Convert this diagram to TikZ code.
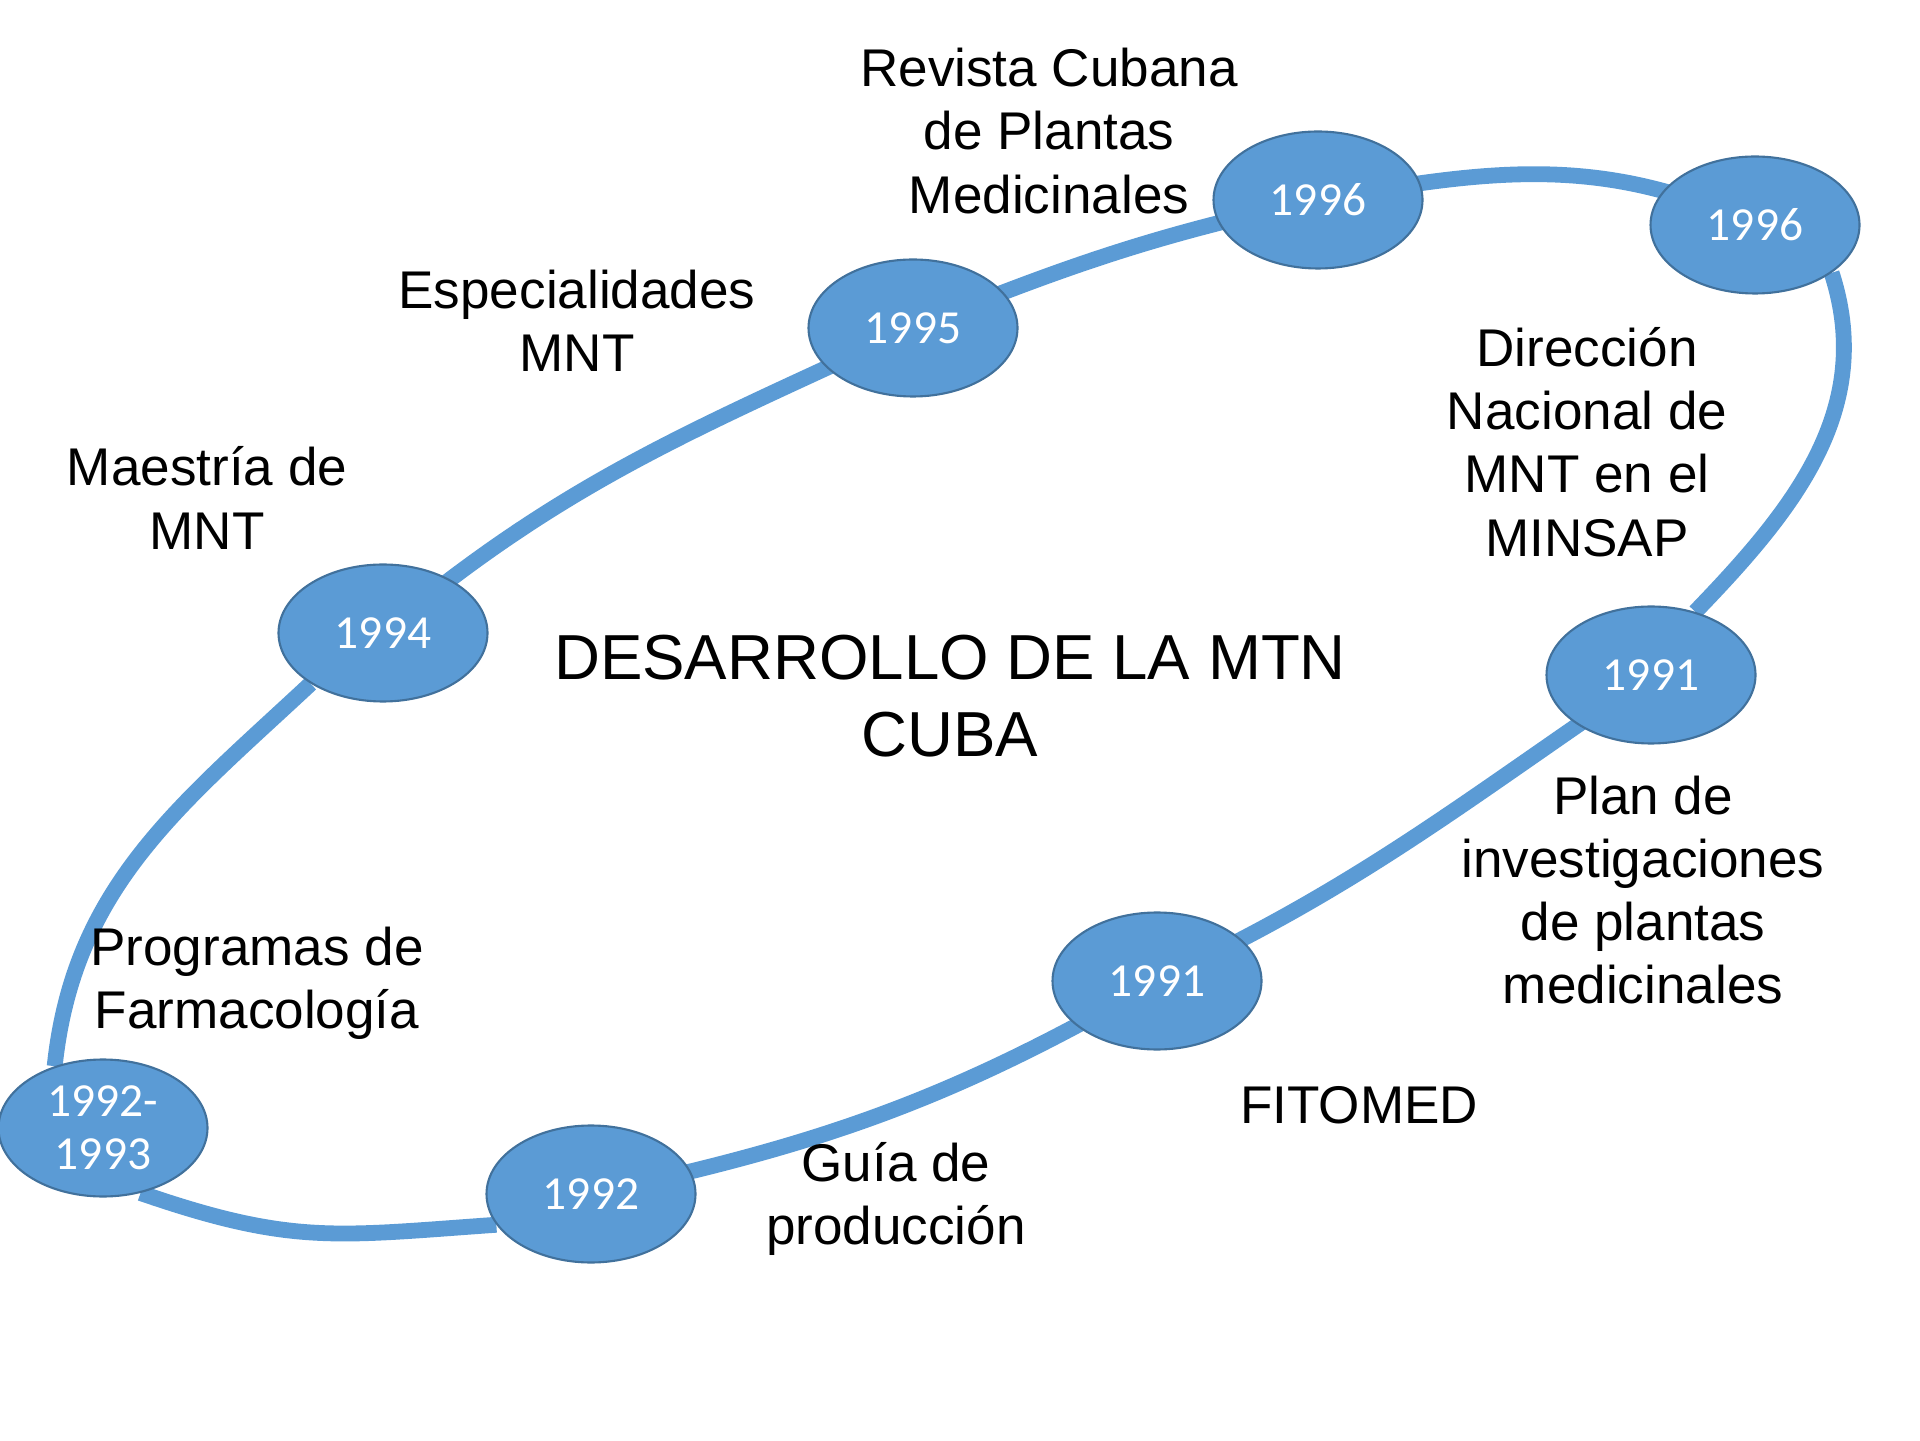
\documentclass[tikz,border=0pt]{standalone}
\usepackage{fontspec}
\setmainfont{Liberation Sans}
\newfontfamily\yrfont{Carlito}
\usepackage{tikz}
\usetikzlibrary{shapes.geometric}
\usetikzlibrary{backgrounds}
\definecolor{yrblue}{HTML}{5B9BD5}
\definecolor{yredge}{HTML}{41719C}

\begin{document}
\begin{tikzpicture}[line cap=round,line join=round,x=1cm,y=1cm,
    yr/.style={ellipse, draw=yredge, line width=0.6pt, fill=yrblue, text=white,
        minimum width=2.09cm, minimum height=1.37cm, inner sep=0pt, align=center,
        font=\yrfont\fontsize{13.5}{15}\selectfont},
    lbl/.style={align=center, font=\fontsize{15.1}{18}\selectfont},
    ringline/.style={draw=yrblue, line width=4.5pt}]
    \useasboundingbox (0,0) rectangle (19.2,14.4);

    % years round the ring
    \node[yr] (y9293) at (1.03,3.12) {1992-\\1993};
    \node[yr] (y94) at (3.83,8.07) {1994};
    \node[yr] (y95) at (9.13,11.12) {1995};
    \node[yr] (y96a) at (13.18,12.40) {1996};
    \node[yr] (y96b) at (17.55,12.15) {1996};
    \node[yr] (y91a) at (16.51,7.65) {1991};
    \node[yr] (y91b) at (11.57,4.59) {1991};
    \node[yr] (y92) at (5.91,2.46) {1992};

    % the ring itself, behind the years
    \begin{pgfonlayer}{background}
        \draw[ringline] (y9293.128) to[out=84, in=223] (y94.215);
        \draw[ringline] (y94.center) to[out=40, in=205] (y95.center);
        \draw[ringline] (y95.center) to[out=22, in=192] (y96a.center);
        \draw[ringline] (y96a.center) to[out=10, in=155] (y96b.center);
        \draw[ringline] (y96b.-32) to[out=-72, in=46] (y91a.55);
        \draw[ringline] (y91a.center) to[out=214, in=25] (y91b.center);
        \draw[ringline] (y91b.center) to[out=210, in=12] (y92.center);
        \draw[ringline] (y92.198) to[out=184, in=-19, looseness=1.15] (y9293.-60);
    \end{pgfonlayer}

    % labels
    \node[align=center, font=\fontsize{18.1}{22}\selectfont] (title) at (9.50,7.44) {DESARROLLO DE LA MTN\\CUBA};
    \node[lbl] (revista) at (10.49,13.09) {Revista Cubana\\de Plantas\\Medicinales};
    \node[lbl] (espec) at (5.77,11.19) {Especialidades\\MNT};
    \node[lbl] (maestria) at (2.07,9.42) {Maestría de\\MNT};
    \node[lbl] (direccion) at (15.87,9.98) {Dirección\\Nacional de\\MNT en el\\MINSAP};
    \node[lbl] (plan) at (16.43,5.50) {Plan de\\investigaciones\\de plantas\\medicinales};
    \node[lbl] (programas) at (2.57,4.57) {Programas de\\Farmacología};
    \node[lbl] (fitomed) at (13.59,3.35) {FITOMED};
    \node[lbl] (guia) at (8.96,2.41) {Guía de\\producción};
\end{tikzpicture}
\end{document}
